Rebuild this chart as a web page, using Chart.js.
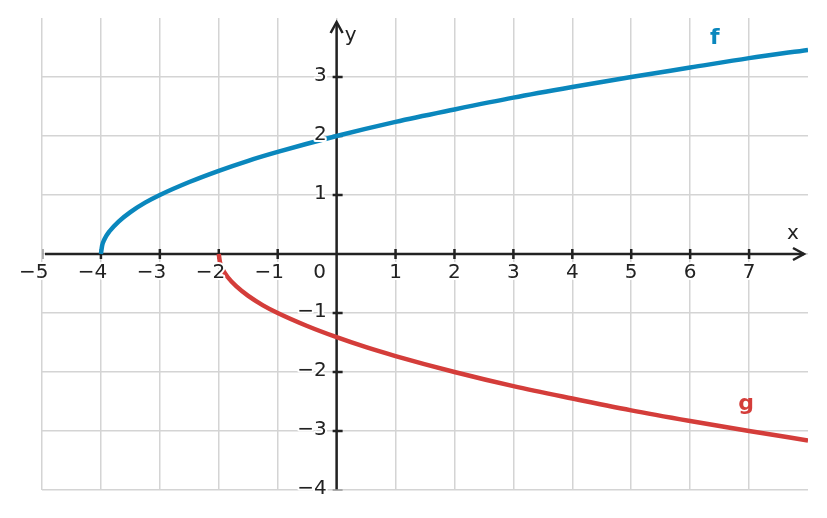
<!DOCTYPE html>
<html>
<head>
<meta charset="utf-8">
<script src="https://cdn.jsdelivr.net/npm/chart.js@4"></script>
<style>
  html, body { margin: 0; padding: 0; background: #fff; }
  #wrap { width: 827px; height: 518px; }
</style>
</head>
<body>
<div id="wrap"><canvas id="graph"></canvas></div>
<script>
// values
const fX = [-4, -3.98, -3.94, -3.85, -3.7, -3.5, -3.25, -3, -2.5, -2, -1.5, -1, 0, 1, 2, 3, 4, 5, 6, 7, 8];
const fY = [0, 0.14, 0.25, 0.39, 0.55, 0.71, 0.87, 1, 1.22, 1.41, 1.58, 1.73, 2, 2.24, 2.45, 2.65, 2.83, 3, 3.16, 3.32, 3.46];
const gX = [-2, -1.98, -1.94, -1.85, -1.7, -1.5, -1.25, -1, -0.5, 0, 0.5, 1, 2, 3, 4, 5, 6, 7, 8];
const gY = [0, -0.14, -0.25, -0.39, -0.55, -0.71, -0.87, -1, -1.22, -1.41, -1.58, -1.73, -2, -2.24, -2.45, -2.65, -2.83, -3, -3.16];
const xTicks = [-5, -4, -3, -2, -1, 1, 2, 3, 4, 5, 6, 7];
const yTicks = [3, 2, 1, -1, -2, -3, -4];
const curveLabels = [
  { text: 'f', x: 6.42, y: 3.66, color: '#0a87bd' },
  { text: 'g', x: 6.95, y: -2.55, color: '#d43d3a' }
];

function toPoints(xs, ys) {
  return xs.map((x, i) => ({ x: x, y: ys[i] }));
}

function minus(v) {
  return v < 0 ? '\u2212' + Math.abs(v) : String(v);
}

const axisInk = '#222222';
const font = '20px "DejaVu Sans", sans-serif';

const axesPlugin = {
  id: 'axes',
  beforeDatasetsDraw(chart) {
    const ctx = chart.ctx;
    const xs = chart.scales.x, ys = chart.scales.y;
    const ox = xs.getPixelForValue(0), oy = ys.getPixelForValue(0);
    const left = xs.getPixelForValue(-5), right = xs.getPixelForValue(8) - 4;
    const bottom = ys.getPixelForValue(-4), top = ys.getPixelForValue(4) + 4;
    ctx.save();
    ctx.strokeStyle = axisInk;
    ctx.lineWidth = 2.5;
    ctx.lineCap = 'butt';
    ctx.beginPath();
    ctx.moveTo(left + 3, oy); ctx.lineTo(right, oy);
    ctx.moveTo(ox, bottom); ctx.lineTo(ox, top);
    ctx.stroke();
    // arrow heads
    ctx.lineJoin = 'miter';
    ctx.beginPath();
    ctx.moveTo(right - 11, oy - 6); ctx.lineTo(right, oy); ctx.lineTo(right - 11, oy + 6);
    ctx.moveTo(ox - 6, top + 11); ctx.lineTo(ox, top); ctx.lineTo(ox + 6, top + 11);
    ctx.stroke();
    // tick marks
    ctx.beginPath();
    xTicks.forEach(v => {
      if (v === -5) return;
      const px = xs.getPixelForValue(v);
      ctx.moveTo(px, oy - 5); ctx.lineTo(px, oy + 5);
    });
    yTicks.forEach(v => {
      if (v === -4) return;
      const py = ys.getPixelForValue(v);
      ctx.moveTo(ox - 4, py); ctx.lineTo(ox + 6, py);
    });
    ctx.stroke();
    ctx.strokeStyle = '#999';
    ctx.lineWidth = 1.5;
    ctx.beginPath();
    ctx.moveTo(left + 1, oy - 5); ctx.lineTo(left + 1, oy + 5);
    const py4 = ys.getPixelForValue(-4);
    ctx.moveTo(ox - 4, py4); ctx.lineTo(ox + 6, py4);
    ctx.stroke();
    ctx.restore();
  },
  afterDatasetsDraw(chart) {
    const ctx = chart.ctx;
    const xs = chart.scales.x, ys = chart.scales.y;
    const ox = xs.getPixelForValue(0), oy = ys.getPixelForValue(0);
    ctx.save();
    ctx.font = font;
    ctx.fillStyle = axisInk;
    ctx.strokeStyle = '#fff';
    ctx.lineWidth = 4;
    ctx.lineJoin = 'round';
    ctx.textAlign = 'right';
    ctx.textBaseline = 'middle';
    const half = ctx.measureText('0').width / 2;
    xTicks.forEach(v => {
      const px = xs.getPixelForValue(v) + half;
      ctx.strokeText(minus(v), px, oy + 19);
      ctx.fillText(minus(v), px, oy + 19);
    });
    ctx.textAlign = 'center';
    ctx.fillText('0', ox - 17, oy + 19);
    ctx.textAlign = 'right';
    yTicks.forEach(v => {
      const py = ys.getPixelForValue(v) - 1;
      ctx.strokeText(minus(v), ox - 10, py);
      ctx.fillText(minus(v), ox - 10, py);
    });
    ctx.textAlign = 'center';
    ctx.font = '20px "DejaVu Sans", sans-serif';
    ctx.fillText('x', xs.getPixelForValue(8) - 15, oy - 20);
    ctx.fillText('y', ox + 14, ys.getPixelForValue(4) + 18);
    ctx.font = 'bold 22px "DejaVu Sans", sans-serif';
    curveLabels.forEach(l => {
      ctx.fillStyle = l.color;
      ctx.fillText(l.text, xs.getPixelForValue(l.x), ys.getPixelForValue(l.y));
    });
    ctx.restore();
  }
};

new Chart(document.getElementById('graph'), {
  type: 'scatter',
  data: {
    datasets: [
      {
        label: 'f',
        data: toPoints(fX, fY),
        showLine: true,
        borderColor: '#0a87bd',
        borderWidth: 4.5,
        pointRadius: 0,
        cubicInterpolationMode: 'monotone'
      },
      {
        label: 'g',
        data: toPoints(gX, gY),
        showLine: true,
        borderColor: '#d43d3a',
        borderWidth: 4.5,
        pointRadius: 0,
        cubicInterpolationMode: 'monotone'
      }
    ]
  },
  options: {
    responsive: true,
    maintainAspectRatio: false,
    animation: false,
    layout: { padding: { left: 42, right: 19, top: 18, bottom: 28 } },
    plugins: { legend: { display: false }, tooltip: { enabled: false } },
    scales: {
      x: {
        type: 'linear',
        min: -5, max: 8,
        ticks: { display: false, stepSize: 1 },
        border: { display: false },
        grid: {
          drawTicks: false,
          lineWidth: 1.5,
          color: c => (c.tick && c.tick.value === 8) ? 'rgba(0,0,0,0)' : '#d4d4d4'
        }
      },
      y: {
        type: 'linear',
        min: -4, max: 4,
        ticks: { display: false, stepSize: 1 },
        border: { display: false },
        grid: {
          drawTicks: false,
          lineWidth: 1.5,
          color: c => (c.tick && c.tick.value === 4) ? 'rgba(0,0,0,0)' : '#d4d4d4'
        }
      }
    }
  },
  plugins: [axesPlugin]
});
</script>
</body>
</html>
